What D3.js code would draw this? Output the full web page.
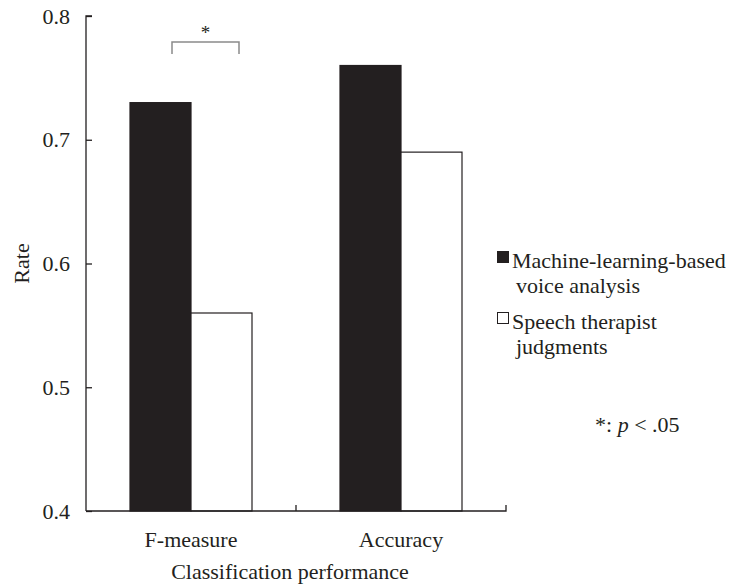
<!DOCTYPE html>
<html>
<head>
<meta charset="utf-8">
<script src="https://cdn.jsdelivr.net/npm/d3@7"></script>
<style>
  body { margin: 0; background: #fff; }
  svg text { font-family: "Liberation Serif", "Times New Roman", Times, serif; fill: #231f20; }
</style>
</head>
<body>
<div id="chart"></div>
<script>
const categories = ["F-measure", "Accuracy"];
const seriesNames = ["Machine-learning-based voice analysis", "Speech therapist judgments"];
const machineValues = [0.73, 0.76];
const therapistValues = [0.56, 0.69];
const yTicks = [0.4, 0.5, 0.6, 0.7, 0.8];

const width = 738, height = 584;
const margin = { left: 86, top: 16, right: 232, bottom: 73 };
const innerW = 506 - margin.left;
const innerH = 511 - margin.top;
const serif = "'Liberation Serif', 'Times New Roman', Times, serif";
const fs = 22;

const svg = d3.select("#chart").append("svg")
  .attr("width", width)
  .attr("height", height)
  .attr("font-family", serif);

const g = svg.append("g")
  .attr("transform", "translate(" + margin.left + "," + margin.top + ")");

const x = d3.scaleBand().domain(categories).range([0, innerW]);
const x1 = d3.scaleBand().domain([0, 1]).range([x.bandwidth() / 2 - 61, x.bandwidth() / 2 + 61]);
const y = d3.scaleLinear().domain([0.4, 0.8]).range([innerH, 0]);

const colors = ["#231f20", "#ffffff"];
const series = [machineValues, therapistValues];

// bars
series.forEach((vals, si) => {
  g.append("g").selectAll("rect")
    .data(vals)
    .join("rect")
    .attr("x", (d, i) => x(categories[i]) + x1(si))
    .attr("y", d => y(d))
    .attr("width", x1.bandwidth())
    .attr("height", d => innerH - y(d))
    .attr("fill", colors[si])
    .attr("stroke", "#231f20")
    .attr("stroke-width", 1.2);
});

// y axis
const yAxis = g.append("g")
  .call(d3.axisLeft(y).tickValues(yTicks).tickFormat(d3.format(".1f")).tickSize(-6).tickPadding(16));
yAxis.attr("font-family", serif);
yAxis.select(".domain").attr("stroke", "#231f20").attr("stroke-width", 1.3).attr("d", "M0," + innerH + "V0H6");
yAxis.selectAll(".tick line").attr("stroke", "#231f20").attr("stroke-width", 1.3);
yAxis.selectAll(".tick text").attr("font-size", fs).attr("fill", "#231f20");

// x axis
const xAxis = g.append("g")
  .attr("transform", "translate(0," + innerH + ")")
  .call(d3.axisBottom(x).tickSize(0).tickPadding(20));
xAxis.attr("font-family", serif);
xAxis.select(".domain").attr("stroke", "#231f20").attr("stroke-width", 1.3).attr("d", "M0,0H" + innerW + "V-6");
xAxis.selectAll(".tick text").attr("font-size", fs).attr("fill", "#231f20");
g.append("line")
  .attr("x1", innerW / 2).attr("x2", innerW / 2)
  .attr("y1", innerH).attr("y2", innerH - 6)
  .attr("stroke", "#231f20").attr("stroke-width", 1.3);

// axis titles
svg.append("text")
  .attr("x", margin.left + innerW / 2 - 6)
  .attr("y", 579)
  .attr("text-anchor", "middle")
  .attr("font-size", fs)
  .text("Classification performance");

svg.append("text")
  .attr("transform", "translate(29," + (margin.top + innerH / 2) + ") rotate(-90)")
  .attr("text-anchor", "middle")
  .attr("font-size", fs)
  .text("Rate");

// significance bracket
const bx0 = x(categories[0]) + x1(0) + 42;
const bx1 = x(categories[0]) + x1(1) + 48;
g.append("path")
  .attr("d", "M" + bx0 + "," + 38 + "V26H" + bx1 + "V38")
  .attr("fill", "none")
  .attr("stroke", "#8a8a8a")
  .attr("stroke-width", 1.5);
g.append("text")
  .attr("x", (bx0 + bx1) / 2)
  .attr("y", 23)
  .attr("text-anchor", "middle")
  .attr("font-size", 19)
  .text("*");

// legend
const legendLines = [["Machine-learning-based", "voice analysis"], ["Speech therapist", "judgments"]];
const legend = svg.append("g").attr("transform", "translate(497,251)");
legendLines.forEach((lines, i) => {
  const item = legend.append("g").attr("transform", "translate(0," + (i * 61) + ")");
  item.append("rect")
    .attr("x", 0.5).attr("y", 0.5)
    .attr("width", 11).attr("height", 11)
    .attr("fill", colors[i])
    .attr("stroke", "#231f20")
    .attr("stroke-width", 1);
  lines.forEach((t, j) => {
    item.append("text")
      .attr("x", j === 0 ? 15 : 19)
      .attr("y", 17 + j * 25)
      .attr("font-size", fs)
      .text(t);
  });
});

// note
const note = svg.append("text")
  .attr("x", 595)
  .attr("y", 432)
  .attr("font-size", fs);
note.append("tspan").text("*: ");
note.append("tspan").attr("font-style", "italic").text("p");
note.append("tspan").text(" < .05");
</script>
</body>
</html>
